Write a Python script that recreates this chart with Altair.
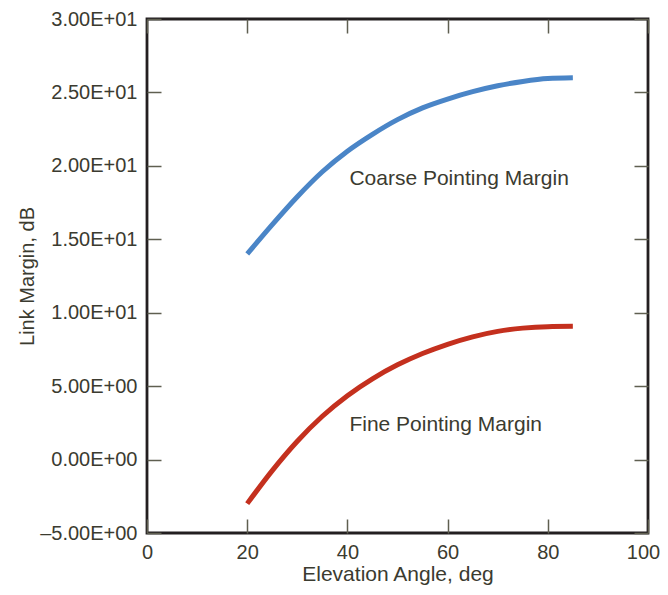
import altair as alt
import pandas as pd

# Data
elev = [20, 25, 30, 35, 40, 45, 50, 55, 60, 65, 70, 75, 80, 85]
coarse = [14.0, 16.0, 17.9, 19.6, 21.0, 22.15, 23.15, 23.95, 24.55, 25.05, 25.45, 25.75, 25.95, 26.0]
fine = [-3.0, -0.75, 1.25, 2.95, 4.35, 5.5, 6.45, 7.22, 7.85, 8.36, 8.73, 8.95, 9.05, 9.07]

series_names = ["Coarse Pointing Margin", "Fine Pointing Margin"]
series_colors = ["#4a85c7", "#c4301e"]

label_text = ["Coarse Pointing Margin", "Fine Pointing Margin"]
label_x = [40.4, 40.4]
label_y = [18.67, 1.93]

x_ticks = [0, 20, 40, 60, 80, 100]
y_ticks = [-5, 0, 5, 10, 15, 20, 25, 30]
y_tick_labels = ["\u20135.00E+00", "0.00E+00", "5.00E+00", "1.00E+01",
                 "1.50E+01", "2.00E+01", "2.50E+01", "3.00E+01"]

rows = []
for name, vals in zip(series_names, [coarse, fine]):
    for xv, yv in zip(elev, vals):
        rows.append({"x": xv, "y": yv, "series": name})
df = pd.DataFrame(rows)
labels_df = pd.DataFrame({"x": label_x, "y": label_y, "text": label_text})

FONT = "Liberation Sans"
TXT = "#3b3b30"
TICK = "#5f5f50"

y_expr = "[" + ",".join("'" + s + "'" for s in y_tick_labels) + "][round((datum.value + 5) / 5)]"

xscale = alt.Scale(domain=[0, 100], nice=False, zero=False)
yscale = alt.Scale(domain=[-5, 30], nice=False, zero=False)

lines = alt.Chart(df).mark_line(strokeWidth=5, strokeCap="butt", interpolate="monotone").encode(
    x=alt.X("x:Q", scale=xscale,
            axis=alt.Axis(orient="bottom", values=x_ticks, domain=False, grid=False,
                          tickSize=alt.ExprRef("-14"), tickWidth=1.5, tickColor=TICK,
                          labelFlush=False,
                          labelPadding=23, labelFont=FONT, labelFontSize=20, labelColor=TXT,
                          labelOffset={"condition": {"test": "datum.value == 100", "value": -5}, "value": 0},
                          title="Elevation Angle, deg", titleFont=FONT, titleFontSize=21,
                          titleFontWeight="normal", titleColor=TXT,
                          titleY=47, titleBaseline="alphabetic")),
    y=alt.Y("y:Q", scale=yscale,
            axis=alt.Axis(orient="left", values=y_ticks, domain=False, grid=False,
                          tickSize=alt.ExprRef("-14"), tickWidth=1.5, tickColor=TICK,
                          labelFlush=False,
                          labelPadding=24, labelFont=FONT, labelFontSize=20, labelColor=TXT,
                          labelExpr=y_expr,
                          title="Link Margin, dB", titleFont=FONT, titleFontSize=20,
                          titleFontWeight="normal", titleColor=TXT,
                          titleX=-120, titleY=257, titleAngle=-90, titleBaseline="middle")),
    color=alt.Color("series:N", scale=alt.Scale(domain=series_names, range=series_colors), legend=None),
)

texts = alt.Chart(labels_df).mark_text(align="left", baseline="alphabetic", font=FONT,
                                       fontSize=21, color=TXT).encode(
    x=alt.X("x:Q", scale=xscale,
            axis=alt.Axis(orient="top", values=x_ticks, domain=False, grid=False, labels=False,
                          tickSize=alt.ExprRef("-14"), tickWidth=1.5, tickColor=TICK, title="")),
    y=alt.Y("y:Q", scale=yscale,
            axis=alt.Axis(orient="right", values=y_ticks, domain=False, grid=False, labels=False,
                          tickSize=alt.ExprRef("-14"), tickWidth=1.5, tickColor=TICK, title="")),
    text="text:N",
)

chart = alt.layer(lines, texts).resolve_axis(x="independent", y="independent").properties(
    width=501, height=514,
    padding={"left": 139, "top": 11, "right": 12, "bottom": 54},
    autosize=alt.AutoSizeParams(type="none"),
).configure_view(stroke="#231f20", strokeWidth=2.8)

chart.save("out.html", embed_options={"renderer": "svg", "actions": False})
